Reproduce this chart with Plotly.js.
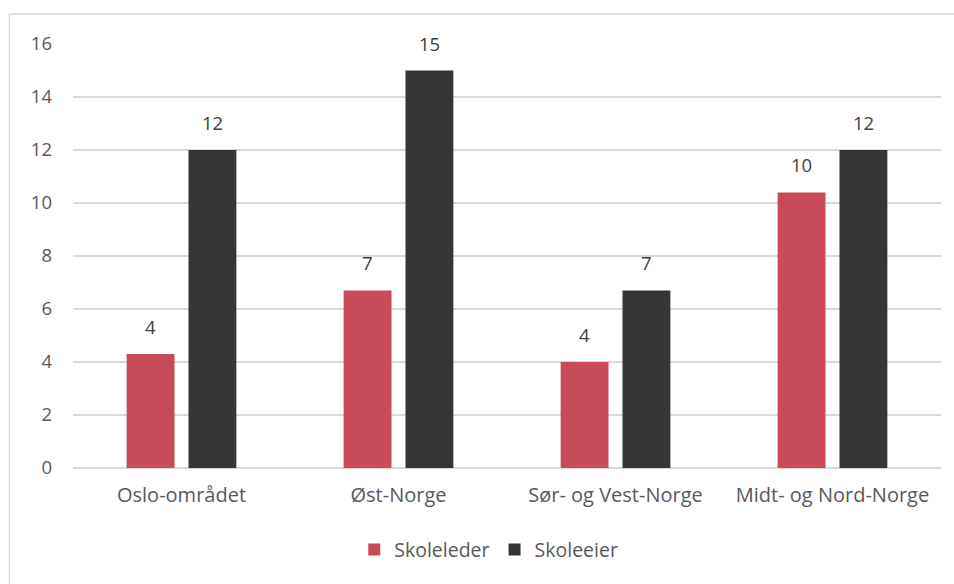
<!DOCTYPE html>
<html>
<head>
<meta charset="utf-8">
<script src="https://cdn.plot.ly/plotly-3.0.1.min.js"></script>
<style>html,body{margin:0;padding:0;background:#fff;}#chart{width:954px;height:584px;}</style>
</head>
<body>
<div id="chart"></div>
<script>
const categories = ["Oslo-området", "Øst-Norge", "Sør- og Vest-Norge", "Midt- og Nord-Norge"];
const skoleleder = [4.3, 6.7, 4.0, 10.4];
const skoleeier = [12, 15, 6.7, 12];
const seriesNames = ["Skoleleder", "Skoleeier"];
const yTicks = [0, 2, 4, 6, 8, 10, 12, 14, 16];

const FONT = "'Open Sans', Lato, sans-serif";
const TXT = "#595959";

const traces = [
  {type: "bar", name: seriesNames[0], x: categories, y: skoleleder,
   marker: {color: "#C84B5A"}, hoverinfo: "none"},
  {type: "bar", name: seriesNames[1], x: categories, y: skoleeier,
   marker: {color: "#363636"}, hoverinfo: "none"}
];

const off = 0.143;
const annotations = [];
[skoleleder, skoleeier].forEach((vals, s) => {
  vals.forEach((v, i) => {
    annotations.push({
      x: i + (s === 0 ? -off : off), y: v, xref: "x", yref: "y",
      text: String(Math.round(v)), showarrow: false, yshift: 27.5,
      font: {family: FONT, size: 18.5, color: "#404040"}
    });
  });
});

const layout = {
  width: 954, height: 584,
  margin: {l: 73, r: 13, t: 44, b: 116},
  paper_bgcolor: "#fff", plot_bgcolor: "#fff",
  font: {family: FONT, size: 18, color: TXT},
  barmode: "group", bargap: 0.43, bargroupgap: 0.226,
  xaxis: {type: "category", showgrid: false, zeroline: false, showline: false,
          ticks: "", ticklabelstandoff: 13, tickfont: {size: 20, color: TXT, family: FONT},
          range: [-0.5, 3.5]},
  yaxis: {range: [0, 16], tickvals: yTicks, ticktext: yTicks.map(String),
          showgrid: true, gridcolor: "#d9d9d9", gridwidth: 1.5,
          zeroline: true, zerolinecolor: "#d9d9d9", zerolinewidth: 1.5,
          showline: false, ticks: "", ticklabelstandoff: 20,
          tickfont: {size: 18.5, color: TXT, family: FONT}},
  legend: {orientation: "h", x: 0.479, xanchor: "center", y: -0.193, yanchor: "middle",
           font: {size: 19.5, color: TXT, family: FONT}, itemwidth: 30, traceorder: "normal"},
  showlegend: true,
  annotations: annotations,
  shapes: [{type: "rect", xref: "paper", yref: "paper", x0: -0.0732, x1: 1.2, y0: -0.5, y1: 1.0708,
            line: {color: "#d9d9d9", width: 1.5}, fillcolor: "rgba(0,0,0,0)", layer: "below"}]
};

Plotly.newPlot("chart", traces, layout, {displayModeBar: false, staticPlot: true});
</script>
</body>
</html>
